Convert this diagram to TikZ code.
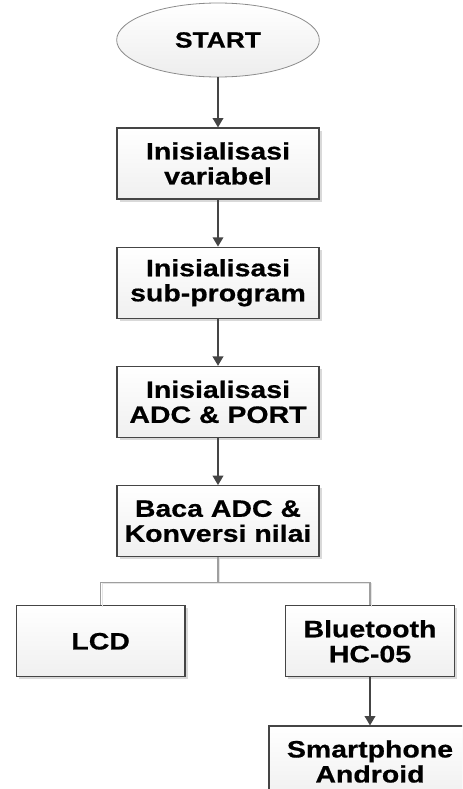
\documentclass[tikz,border=0pt]{standalone}
\usepackage{fontspec}
\newfontfamily\kotakfont[FakeStretch=1.2, BoldFeatures={FakeBold=0.6}]{Liberation Sans}
\usetikzlibrary{positioning, arrows.meta, shapes.geometric, shadows}
\definecolor{Garis}{HTML}{454545}
\tikzset{
  kotak/.style  = {rectangle, draw=Garis, line width=0.9pt, top color=white,
                   bottom color=gray!12, align=center, inner sep=2pt,
                   font=\kotakfont\bfseries\fontsize{17.8}{18.75}\selectfont,
                   minimum height=53.25pt, minimum width=151.5pt,
                   drop shadow={shadow xshift=2pt, shadow yshift=-2pt,
                                fill=gray!30, opacity=1}},
  kotakkecil/.style = {kotak, minimum width=126.5pt},
  mulai/.style  = {ellipse, draw=gray!90, line width=0.6pt, top color=white,
                   bottom color=gray!14, align=center,
                   font=\kotakfont\bfseries\fontsize{16.5}{18}\selectfont,
                   minimum height=55.5pt, minimum width=152pt},
  panah/.style  = {-{Triangle[length=7pt, width=8pt]}, draw=Garis, line width=1.1pt},
  cabang/.style = {draw=gray!75, line width=0.8pt,
                   preaction={draw=gray!20, line width=0.8pt,
                              transform canvas={shift={(1.2pt,-1.2pt)}}}},
}

\begin{document}
\begin{tikzpicture}[x=0.75pt, y=-0.75pt, node distance=35.25pt]
  \useasboundingbox (0,0) rectangle (462,789);
  \clip (0,0) rectangle (462,789);

  \node[mulai] at (218,40)               (start) {START};
  \node[kotak, below=37.5pt of start]    (var)   {Inisialisasi\\variabel};
  \node[kotak, below=of var]             (sub)   {Inisialisasi\\sub-program};
  \node[kotak, below=of sub]             (adc)   {Inisialisasi\\ADC \& PORT};
  \node[kotak, below=of adc]             (baca)  {Baca ADC \&\\Konversi nilai};
  \node[kotakkecil, below=36pt of baca, xshift=-88pt]  (lcd) {LCD};
  \node[kotakkecil, below=36pt of baca, xshift=114pt]  (bt)  {Bluetooth\\HC-05};
  \node[kotak, below=36pt of bt]         (hp)    {Smartphone\\Android};

  \draw[panah] (start) -- (var);
  \draw[panah] (var) -- (sub);
  \draw[panah] (sub) -- (adc);
  \draw[panah] (adc) -- (baca);

  \coordinate[below=18.75pt of baca.south] (pisah);
  \draw[cabang] (baca.south) -- (pisah) -| (lcd.north);
  \draw[cabang] (pisah) -| (bt.north);

  \draw[panah] (bt) -- (hp);
\end{tikzpicture}
\end{document}
